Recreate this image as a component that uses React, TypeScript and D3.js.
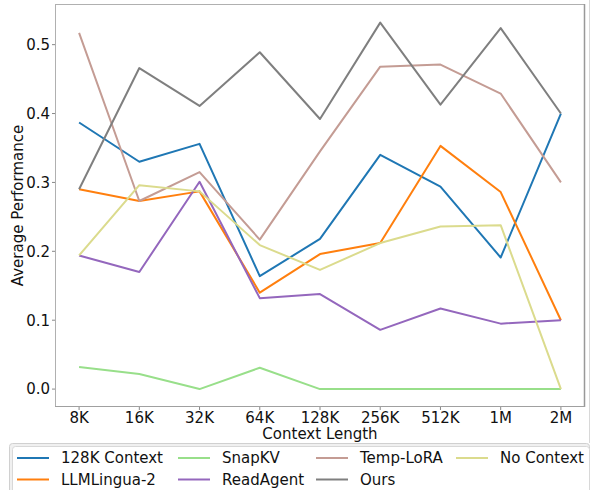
import React, { useEffect, useRef } from "react";
import * as d3 from "d3";

// context lengths on the x axis
const contextLengths = ["8K", "16K", "32K", "64K", "128K", "256K", "512K", "1M", "2M"];

const ctx128k = [0.387, 0.33, 0.356, 0.164, 0.218, 0.34, 0.294, 0.191, 0.4];
const llmLingua2 = [0.29, 0.273, 0.287, 0.14, 0.196, 0.212, 0.353, 0.286, 0.1];
const snapKV = [0.032, 0.022, 0.0, 0.031, 0.0, 0.0, 0.0, 0.0, 0.0];
const readAgent = [0.194, 0.17, 0.301, 0.132, 0.138, 0.086, 0.117, 0.095, 0.1];
const tempLoRA = [0.517, 0.273, 0.315, 0.217, 0.345, 0.468, 0.471, 0.429, 0.3];
const ours = [0.29, 0.466, 0.411, 0.489, 0.392, 0.532, 0.413, 0.524, 0.4];
const noContext = [0.194, 0.296, 0.287, 0.209, 0.173, 0.212, 0.236, 0.238, 0.0];

const yTicks = [0.0, 0.1, 0.2, 0.3, 0.4, 0.5];

const series = [
  { name: "128K Context", values: ctx128k, color: "#1f77b4" },
  { name: "LLMLingua-2", values: llmLingua2, color: "#ff7f0e" },
  { name: "SnapKV", values: snapKV, color: "#98df8a" },
  { name: "ReadAgent", values: readAgent, color: "#9467bd" },
  { name: "Temp-LoRA", values: tempLoRA, color: "#c49c94" },
  { name: "Ours", values: ours, color: "#7f7f7f" },
  { name: "No Context", values: noContext, color: "#dbdb8d" },
];

const FONT = "DejaVu Sans, sans-serif";

export default function App() {
  const svgRef = useRef<SVGSVGElement>(null);

  useEffect(() => {
    const svg = d3.select(svgRef.current);
    svg.selectAll("*").remove();

    const W = 593;
    const H = 490;
    const plot = { left: 55, top: 4, right: 585, bottom: 407 };

    svg.attr("width", W).attr("height", H).style("font-family", FONT);
    svg.append("rect").attr("width", W).attr("height", H).attr("fill", "white");

    const x = d3
      .scaleLinear()
      .domain([-0.4, contextLengths.length - 1 + 0.4])
      .range([plot.left, plot.right]);
    const y = d3.scaleLinear().domain([-0.026, 0.559]).range([plot.bottom, plot.top]);

    // outer frame line on the right
    svg
      .append("line")
      .attr("x1", 589.5)
      .attr("x2", 589.5)
      .attr("y1", 0)
      .attr("y2", 443)
      .attr("stroke", "#d8d8d8")
      .attr("stroke-width", 1);

    // lines
    const line = d3
      .line<number>()
      .x((_, i) => x(i))
      .y((d) => y(d));

    svg
      .append("g")
      .selectAll("path")
      .data(series)
      .enter()
      .append("path")
      .attr("d", (s) => line(s.values))
      .attr("fill", "none")
      .attr("stroke", (s) => s.color)
      .attr("stroke-width", 2)
      .attr("stroke-linejoin", "round");

    // spines
    svg
      .append("line")
      .attr("x1", plot.left + 0.5).attr("x2", plot.left + 0.5)
      .attr("y1", plot.top).attr("y2", plot.bottom)
      .attr("stroke", "#b0b0b0");
    svg
      .append("line")
      .attr("x1", plot.left).attr("x2", plot.right)
      .attr("y1", plot.top + 0.5).attr("y2", plot.top + 0.5)
      .attr("stroke", "#b0b0b0");
    svg
      .append("line")
      .attr("x1", plot.right - 0.5).attr("x2", plot.right - 0.5)
      .attr("y1", plot.top).attr("y2", plot.bottom)
      .attr("stroke", "#999999")
      .attr("stroke-width", 1.5);
    svg
      .append("line")
      .attr("x1", plot.left).attr("x2", plot.right)
      .attr("y1", plot.bottom - 0.5).attr("y2", plot.bottom - 0.5)
      .attr("stroke", "#a0a0a0")
      .attr("stroke-width", 1.2);

    // y axis ticks
    const yAxis = svg.append("g");
    yTicks.forEach((t) => {
      yAxis
        .append("line")
        .attr("x1", plot.left - 3).attr("x2", plot.left)
        .attr("y1", y(t)).attr("y2", y(t))
        .attr("stroke", "#888");
      yAxis
        .append("text")
        .attr("x", plot.left - 5)
        .attr("y", y(t))
        .attr("dy", "0.36em")
        .attr("text-anchor", "end")
        .attr("font-size", 15)
        .attr("fill", "#111")
        .text(d3.format(".1f")(t));
    });

    // x axis ticks
    const xAxis = svg.append("g");
    contextLengths.forEach((c, i) => {
      xAxis
        .append("line")
        .attr("x1", x(i)).attr("x2", x(i))
        .attr("y1", plot.bottom).attr("y2", plot.bottom + 3)
        .attr("stroke", "#888");
      xAxis
        .append("text")
        .attr("x", x(i))
        .attr("y", 423)
        .attr("text-anchor", "middle")
        .attr("font-size", 15)
        .attr("fill", "#111")
        .text(c);
    });

    svg
      .append("text")
      .attr("x", (plot.left + plot.right) / 2)
      .attr("y", 439)
      .attr("text-anchor", "middle")
      .attr("font-size", 15)
      .attr("fill", "#111")
      .text("Context Length");

    svg
      .append("text")
      .attr("transform", `translate(23,${(plot.top + plot.bottom) / 2}) rotate(-90)`)
      .attr("text-anchor", "middle")
      .attr("font-size", 15)
      .attr("fill", "#111")
      .text("Average Performance");

    // legend (shadow + box)
    svg
      .append("rect")
      .attr("x", 9.5).attr("y", 443.5)
      .attr("width", 580).attr("height", 60)
      .attr("rx", 3)
      .attr("fill", "#f0f0f0")
      .attr("stroke", "#d0d0d0");
    svg
      .append("rect")
      .attr("x", 12.5).attr("y", 446.5)
      .attr("width", 577).attr("height", 60)
      .attr("rx", 3)
      .attr("fill", "white")
      .attr("stroke", "#d8d8d8");

    const colX = [17, 178, 316, 456];
    const rowY = [458, 479.5];
    // matplotlib fills legend column-wise: 2 rows x 4 cols
    series.forEach((s, i) => {
      const col = Math.floor(i / 2);
      const row = i % 2;
      const g = svg.append("g").attr("transform", `translate(${colX[col]},${rowY[row]})`);
      g.append("line")
        .attr("x1", 0).attr("x2", 32)
        .attr("y1", 0).attr("y2", 0)
        .attr("stroke", s.color)
        .attr("stroke-width", 2);
      g.append("text")
        .attr("x", 44)
        .attr("y", 0)
        .attr("dy", "0.36em")
        .attr("font-size", 15)
        .attr("fill", "#111")
        .text(s.name);
    });
  }, []);

  return <svg ref={svgRef} style={{ position: "absolute", left: 0, top: 0 }}></svg>;
}
